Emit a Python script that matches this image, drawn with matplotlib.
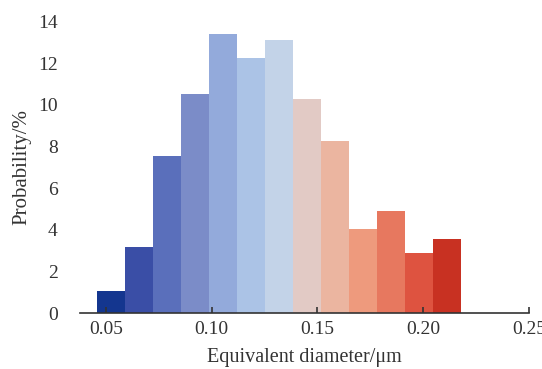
import matplotlib
matplotlib.use("Agg")
import matplotlib.pyplot as plt
import numpy as np

# data
bin_start = 0.0459
bin_width = 0.01323
probabilities = [1.07, 3.19, 7.55, 10.51, 13.41, 12.26, 13.11, 10.30, 8.28, 4.05, 4.92, 2.90, 3.57]
bar_colors = ["#14368f", "#3a4ea6", "#5a6fbb", "#7b8cc8", "#93aadb", "#abc3e6", "#c3d3e8",
              "#e2cac5", "#ebb5a0", "#ee9a7d", "#e7785f", "#de5340", "#c83122"]
xticks = [0.05, 0.10, 0.15, 0.20, 0.25]
yticks = [0, 2, 4, 6, 8, 10, 12, 14]

plt.rcParams['font.family'] = ['Liberation Serif', 'DejaVu Serif']

fig = plt.figure(figsize=(5.42, 3.69), dpi=100)
ax = fig.add_axes([80/542, 56/369, (529-80)/542, (313-21.5)/369])

lefts = bin_start + bin_width * np.arange(len(probabilities))
ax.bar(lefts, probabilities, width=bin_width, align='edge', color=bar_colors,
       edgecolor='none', zorder=1)

ax.set_xlim(0.0378, 0.25)
ax.set_ylim(0, 14)
ax.set_xticks(xticks)
ax.set_xticklabels([f"{t:.2f}" for t in xticks])
ax.set_yticks(yticks)
ax.set_yticklabels([str(t) for t in yticks])

for s in ['top', 'right', 'left']:
    ax.spines[s].set_visible(False)
ax.spines['bottom'].set_color('#333333')
ax.spines['bottom'].set_linewidth(1.2)
ax.spines['bottom'].set_zorder(3)

ax.tick_params(axis='x', direction='in', length=4, width=1.2, color='#333333',
               labelsize=14, pad=6, labelcolor='#333333')
ax.tick_params(axis='y', length=0, labelsize=14, pad=16, labelcolor='#333333')

ax.set_xlabel("Equivalent diameter/μm", fontsize=14.5, color='#333333', labelpad=7)
ax.set_ylabel("Probability/%", fontsize=15, color='#333333', labelpad=5)

fig.savefig("out.png", dpi=100)
